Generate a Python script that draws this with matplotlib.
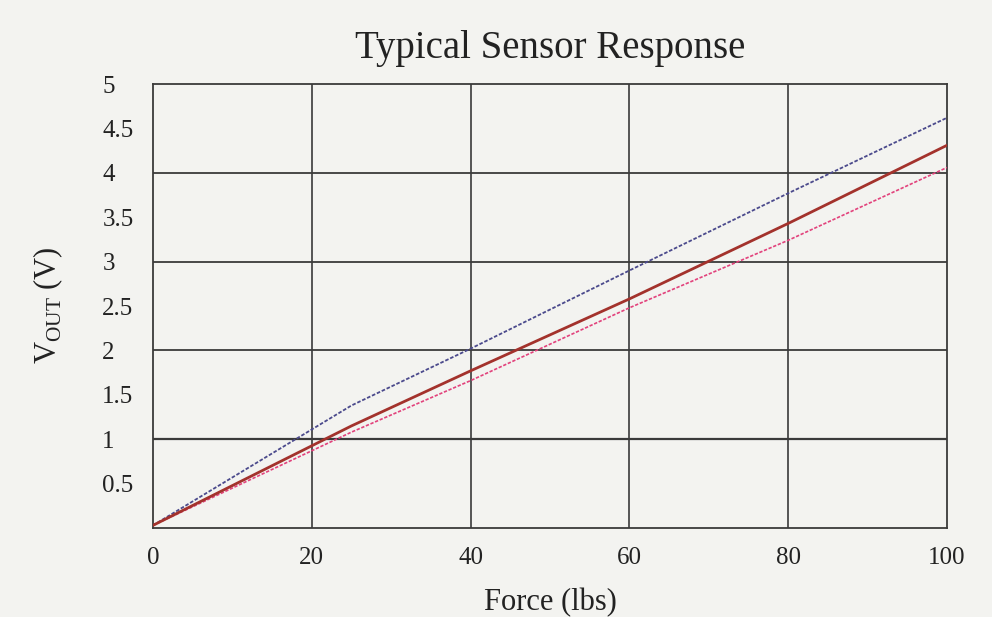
import matplotlib
matplotlib.use("Agg")
import matplotlib.pyplot as plt
from matplotlib.ticker import FixedLocator

plt.rcParams['font.family'] = ['Liberation Serif', 'DejaVu Serif']
plt.rcParams['mathtext.fontset'] = 'custom'
plt.rcParams['mathtext.rm'] = 'Liberation Serif'

# Force (lbs) and output voltage (V) for the three response curves
force = [0, 25, 40, 60, 80, 100]
vout_high = [0.03, 1.38, 2.02, 2.90, 3.77, 4.62]
vout_typ = [0.03, 1.15, 1.77, 2.58, 3.43, 4.31]
vout_low = [0.03, 1.08, 1.66, 2.48, 3.24, 4.06]

x_ticks = [0, 20, 40, 60, 80, 100]
y_ticks = [0.5, 1, 1.5, 2, 2.5, 3, 3.5, 4, 4.5, 5]
y_tick_labels = ['0.5', '1', '1.5', '2', '2.5', '3', '3.5', '4', '4.5', '5']
y_grid = [1, 2, 3, 4]

paper = '#f3f3f0'
ink = '#3a3a3a'

fig = plt.figure(figsize=(9.92, 6.17), dpi=100, facecolor=paper)
ax = fig.add_axes([0.1542, 0.1442, 0.8004, 0.7196], facecolor=paper)

ax.set_xlim(0, 100)
ax.set_ylim(0, 5)

# grid: horizontal at whole volts, vertical every 20 lbs
for v in y_grid:
    ax.axhline(v, color=ink, lw=1.3 if v != 1 else 1.6, zorder=1)
for f in x_ticks[1:-1]:
    ax.axvline(f, color=ink, lw=1.2, zorder=1)

for s in ax.spines.values():
    s.set_color(ink)
    s.set_linewidth(1.3)

ax.plot(force, vout_high, color='#4b4a8c', lw=1.3, ls=(0, (2.0, 1.0)), zorder=3)
ax.plot(force, vout_typ, color='#a3322c', lw=2.0, zorder=4)
ax.plot(force, vout_low, color='#e2427c', lw=1.2, ls=(0, (2.0, 1.0)), zorder=3)

ax.xaxis.set_major_locator(FixedLocator(x_ticks))
ax.set_xticklabels([str(t) for t in x_ticks])
ax.yaxis.set_major_locator(FixedLocator(y_ticks))
ax.set_yticklabels(y_tick_labels)
ax.tick_params(axis='both', length=0, labelsize=18, colors='#222222')
ax.tick_params(axis='x', pad=13.5)
ax.tick_params(axis='y', pad=36.5)
for lab in ax.get_yticklabels():
    lab.set_horizontalalignment('left')

ax.set_title('Typical Sensor Response', fontsize=28, color='#222222', pad=18.5)
ax.set_xlabel('Force (lbs)', fontsize=22, color='#222222', labelpad=14)
fig.text(0.049, 0.506, r'V$_{\mathrm{OUT}}$ (V)', rotation=90, fontsize=22,
         color='#222222', ha='center', va='center')

fig.savefig('out.png', dpi=100, facecolor=paper)
